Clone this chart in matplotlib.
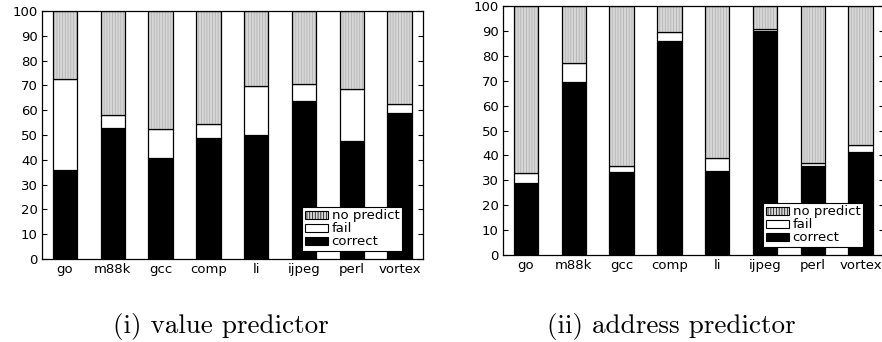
import matplotlib
matplotlib.use("Agg")
import matplotlib.pyplot as plt
from matplotlib.patches import Patch
import numpy as np

plt.rcParams["font.family"] = "DejaVu Sans"
plt.rcParams["hatch.linewidth"] = 0.5

BENCHMARKS = ["go", "m88k", "gcc", "comp", "li", "ijpeg", "perl", "vortex"]

# percentages per benchmark: correct / fail / no predict
VALUE_CORRECT = [36.0, 53.0, 40.9, 48.9, 50.1, 63.8, 47.7, 58.7]
VALUE_FAIL = [36.5, 4.9, 11.6, 5.5, 19.8, 6.7, 20.8, 4.0]
VALUE_NOPRED = [27.5, 42.1, 47.5, 45.6, 30.1, 29.5, 31.5, 37.3]

ADDR_CORRECT = [28.9, 69.5, 33.5, 86.1, 33.7, 90.1, 35.9, 41.5]
ADDR_FAIL = [4.2, 7.7, 2.4, 3.3, 5.3, 0.5, 1.2, 2.5]
ADDR_NOPRED = [66.9, 22.8, 64.1, 10.6, 61.0, 9.4, 62.9, 56.0]

CAPTIONS = ["(i) value predictor", "(ii) address predictor"]

NP_FACE = "#d6d6d6"
NP_HATCH = "#b0b0b0"
W = 0.51
FS = 9.5


def draw_panel(ax, correct, fail, nopred):
    x = np.arange(len(BENCHMARKS))
    correct = np.asarray(correct)
    fail = np.asarray(fail)
    nopred = np.asarray(nopred)
    ax.bar(x, correct, W, color="black", edgecolor="black", lw=0.9, zorder=2)
    ax.bar(x, fail, W, bottom=correct, color="white", edgecolor="black", lw=0.9, zorder=2)
    # hatched fill in gray, then a black outline on top
    ax.bar(x, nopred, W, bottom=correct + fail, color=NP_FACE, edgecolor=NP_HATCH,
           hatch="||||||", lw=0, zorder=2)
    ax.bar(x, nopred, W, bottom=correct + fail, fill=False, edgecolor="black", lw=0.9, zorder=3)

    ax.set_xlim(-0.48, 7.49)
    ax.set_ylim(0, 100)
    ax.set_yticks(range(0, 101, 10))
    ax.set_xticks(x)
    ax.set_xticklabels(BENCHMARKS)
    ax.tick_params(axis="y", direction="in", length=3.6, width=0.8, right=True,
                   labelsize=FS, pad=3)
    ax.tick_params(axis="x", length=0, labelsize=FS, pad=3)
    for s in ax.spines.values():
        s.set_linewidth(0.9)


def legend_handles():
    return [
        Patch(facecolor=NP_FACE, edgecolor="black", hatch="||||||", lw=0.8, label="no predict"),
        Patch(facecolor="white", edgecolor="black", lw=0.8, label="fail"),
        Patch(facecolor="black", edgecolor="black", lw=0.8, label="correct"),
    ]


fig = plt.figure(figsize=(8.82, 3.42), dpi=100)
ax1 = fig.add_axes([42 / 882, 1 - 259 / 342, 381 / 882, 248 / 342])
ax2 = fig.add_axes([503 / 882, 1 - 255 / 342, 381 / 882, 249 / 342])

draw_panel(ax1, VALUE_CORRECT, VALUE_FAIL, VALUE_NOPRED)
draw_panel(ax2, ADDR_CORRECT, ADDR_FAIL, ADDR_NOPRED)

for ax, (lx, ly) in [(ax1, (302, 251)), (ax2, (763, 247))]:
    leg = ax.legend(handles=legend_handles(), loc="lower left",
                    bbox_to_anchor=(lx / 882, 1 - ly / 342), bbox_transform=fig.transFigure,
                    borderaxespad=0, fontsize=FS, frameon=True, fancybox=False,
                    framealpha=1, edgecolor="black", handlelength=1.75, handleheight=0.6,
                    handletextpad=0.3, labelspacing=0.0, borderpad=0.2)
    leg.get_frame().set_linewidth(0.8)
    leg.set_zorder(5)

fig.text(221 / 882, 1 - 333 / 342, CAPTIONS[0], family="cmr10", fontsize=19.5,
         ha="center", va="baseline")
fig.text(671 / 882, 1 - 333 / 342, CAPTIONS[1], family="cmr10", fontsize=19.5,
         ha="center", va="baseline")

fig.savefig("out.png", dpi=100)
